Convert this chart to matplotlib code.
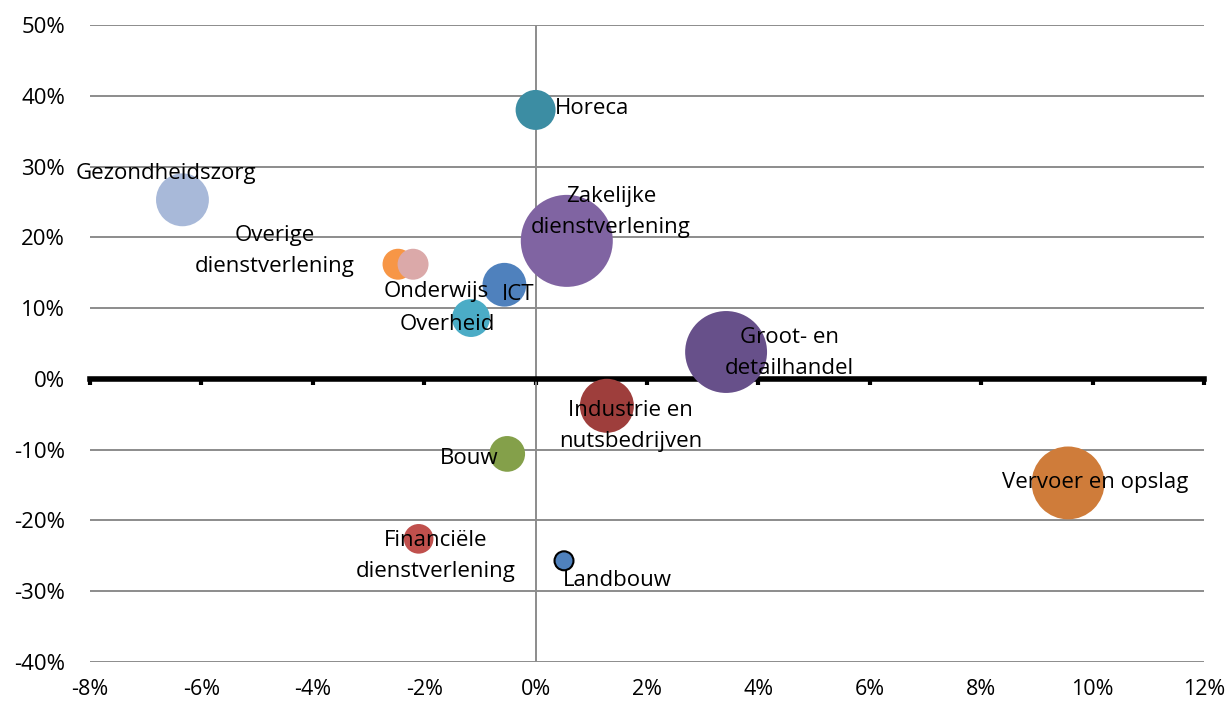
import numpy as np
import matplotlib.pyplot as plt
from matplotlib.ticker import FuncFormatter, MultipleLocator

plt.rcParams['font.family'] = ['Open Sans', 'DejaVu Sans']

# sectors: x = groei productie (%), y = groei (%), size = bubble area
sectors = ['Horeca', 'Gezondheidszorg', 'Zakelijke\ndienstverlening',
           'Overige\ndienstverlening', 'Onderwijs', 'ICT', 'Overheid',
           'Groot- en\ndetailhandel', 'Industrie en\nnutsbedrijven', 'Bouw',
           'Vervoer en opslag', 'Financiële\ndienstverlening', 'Landbouw']
x_vals = [0.0, -6.34, 0.56, -2.47, -2.20, -0.56, -1.16, 3.42, 1.28, -0.51, 9.56, -2.10, 0.51]
y_vals = [38.0, 25.3, 19.5, 16.2, 16.2, 13.3, 8.6, 3.8, -3.8, -10.6, -14.7, -22.6, -25.7]
sizes = [40, 70, 212, 24, 24, 48, 36, 168, 73, 32, 133, 22, 9]

colors = ['#3C8DA3', '#A8B9D9', '#8064A2', '#F79646', '#DBA9A9', '#4F81BD', '#4BACC6',
          '#67508A', '#9E3E3C', '#84A04A', '#CF7C3A', '#C0504D', '#4F81BD']
# label offsets from bubble centre, in pixels
label_off = [(56, 1), (-17, 26), (44, 29), (-123, 13), (23, -27), (14, -10), (-24, -6),
             (63, -1), (24, -20), (-38, -5), (27, 0), (17, -17), (53, -20)]

fig = plt.figure(figsize=(12.27, 7.06), dpi=100)
ax = fig.add_axes([90/1227, 1-662/706, 1114/1227, 637/706])

ax.set_xlim(-8, 12)
ax.set_ylim(-40, 50)
ax.yaxis.set_major_locator(MultipleLocator(10))
ax.xaxis.set_major_locator(MultipleLocator(2))
ax.grid(axis='y', color='#8C8C8C', linewidth=1.4, zorder=0)
ax.set_axisbelow(True)
ax.axvline(0, color='#8C8C8C', linewidth=1.4, zorder=1)

for s in ['top', 'right', 'left']:
    ax.spines[s].set_visible(False)
ax.spines['bottom'].set_position(('data', 0))
ax.spines['bottom'].set_linewidth(4)
ax.spines['bottom'].set_color('black')
ax.tick_params(axis='x', direction='out', length=4, width=3, color='black', labelbottom=False)
ax.tick_params(axis='y', length=0, pad=18, labelsize=16)
ax.yaxis.set_major_formatter(FuncFormatter(lambda v, p: f'{v:.0f}%'))

sec = ax.secondary_xaxis('bottom')
sec.spines['bottom'].set_visible(False)
sec.xaxis.set_major_locator(MultipleLocator(2))
sec.xaxis.set_major_formatter(FuncFormatter(lambda v, p: f'{v:.0f}%'))
sec.tick_params(axis='x', length=0, pad=12, labelsize=15.5)

edges = ['none'] * (len(sectors) - 1) + ['black']
ax.scatter(x_vals, y_vals, s=np.array(sizes) * 20.7, c=colors, edgecolors=edges,
           linewidths=1.5, zorder=3, clip_on=False)

for i, name in enumerate(sectors):
    ax.annotate(name, (x_vals[i], y_vals[i]), xytext=label_off[i], textcoords='offset pixels',
                ha='center', va='center', multialignment='center', fontsize=16,
                linespacing=1.6, zorder=5)

fig.savefig('out.png', dpi=100)
